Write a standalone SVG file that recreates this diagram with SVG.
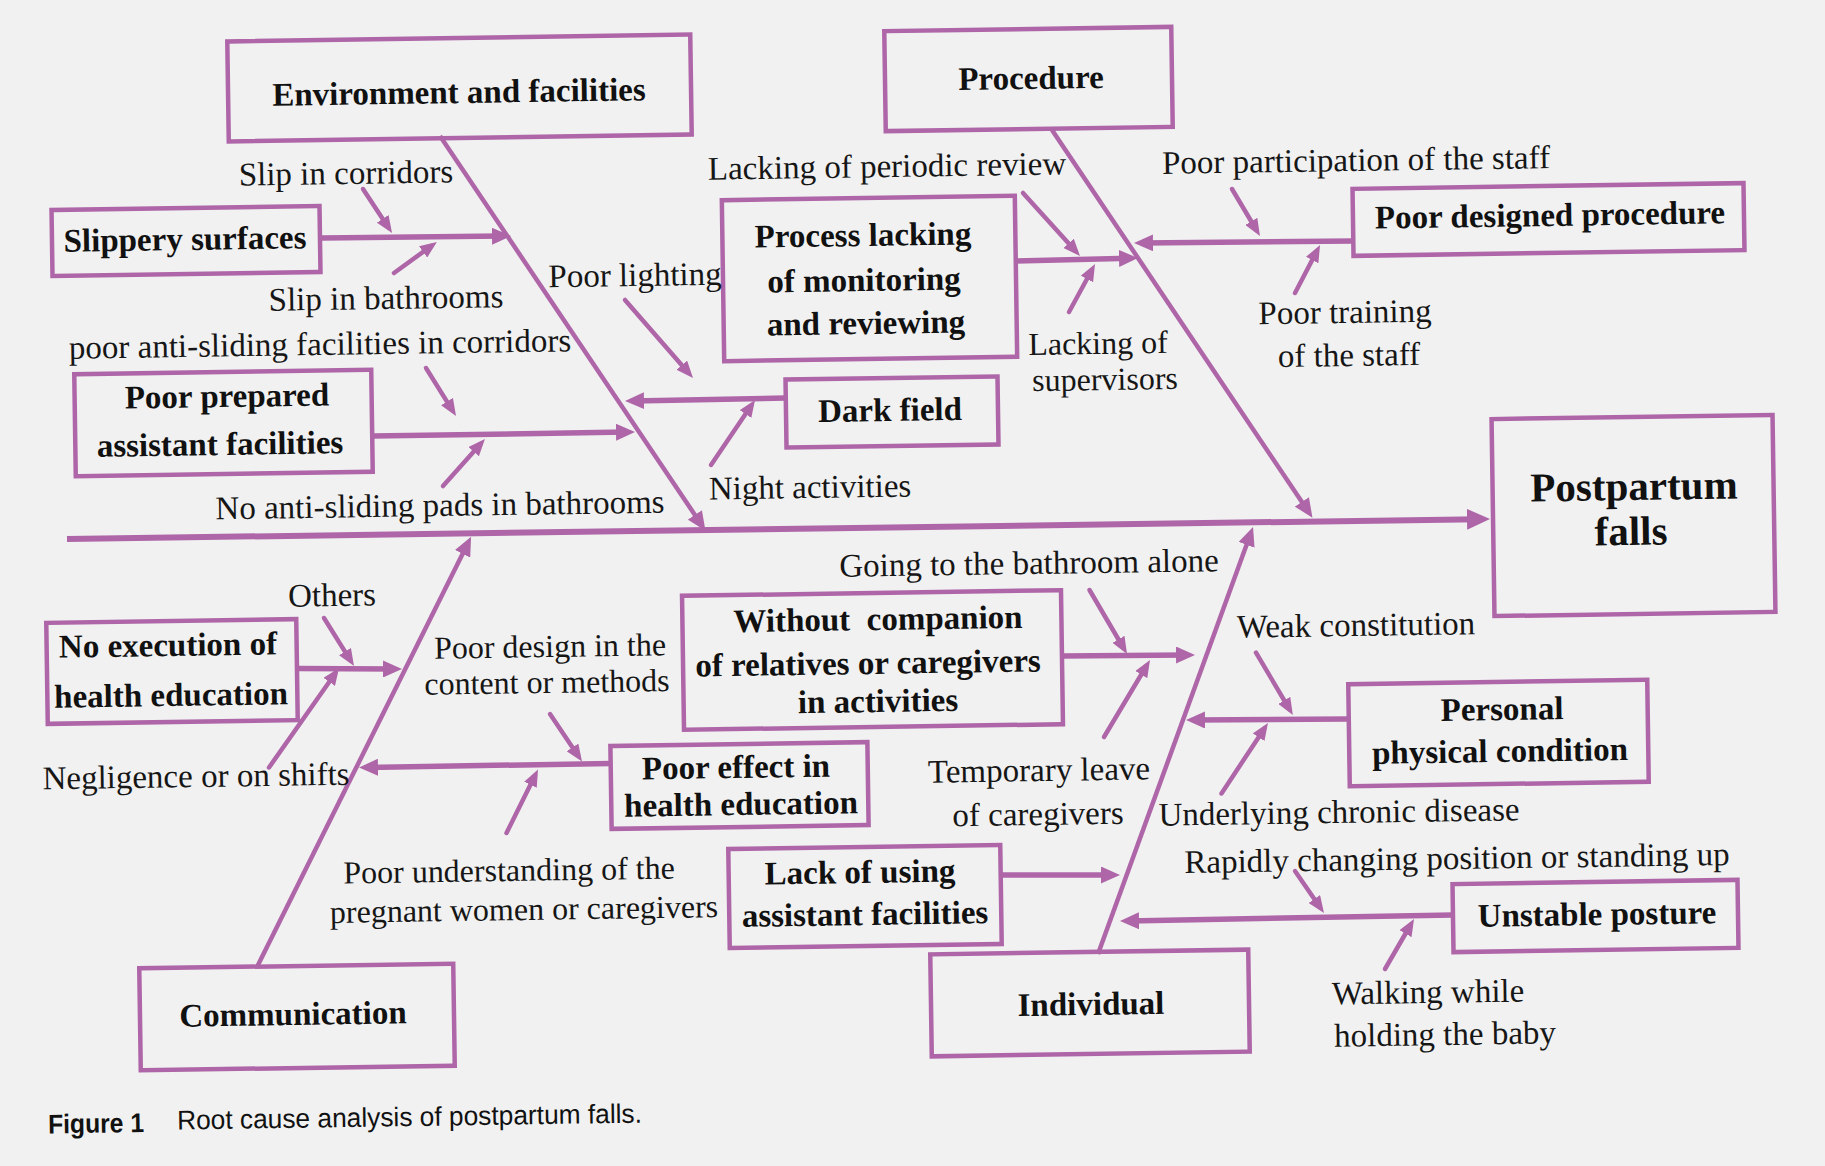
<svg xmlns="http://www.w3.org/2000/svg" width="1825" height="1166" viewBox="0 0 1825 1166">
  <style>
    .tl{transform-box:fill-box;transform-origin:center;transform:rotate(-0.85deg)}
    .box{fill:none;stroke:#ae66a8;stroke-width:4.5}
    .bt{font-family:"Liberation Serif","Times New Roman",serif;font-weight:bold;font-size:33px;fill:#111;text-anchor:middle}
    .lb{font-family:"Liberation Serif","Times New Roman",serif;font-size:33px;fill:#161616;text-anchor:middle}
    .tight{font-size:32px}
    .big{font-size:41px}
    .cap{font-family:"Liberation Sans Narrow","Liberation Sans",Arial,sans-serif;font-size:27px;fill:#111}
    #connectors line{stroke:#ae66a8;fill:none}
    .spine{stroke-width:6}
    .bone{stroke-width:4.5}
    .sub{stroke-width:5.5}
    .cause{stroke-width:4.5;stroke-linecap:round}
  </style>
  <defs>
    <marker id="arrow-lg" viewBox="0 0 23 21" refX="12" refY="10.5" markerWidth="23" markerHeight="21" markerUnits="userSpaceOnUse" orient="auto">
      <path d="M0,0 L23,10.5 L0,21 z" fill="#ae66a8"/>
    </marker>
    <marker id="arrow-md" viewBox="0 0 19 17" refX="11" refY="8.5" markerWidth="19" markerHeight="17" markerUnits="userSpaceOnUse" orient="auto">
      <path d="M0,0 L19,8.5 L0,17 z" fill="#ae66a8"/>
    </marker>
    <marker id="arrow-sm" viewBox="0 0 17 14" refX="10" refY="7" markerWidth="17" markerHeight="14" markerUnits="userSpaceOnUse" orient="auto">
      <path d="M0,0 L17,7 L0,14 z" fill="#ae66a8"/>
    </marker>
  </defs>

  <rect width="1825" height="1166" fill="#f1f1f1"/>

  <g id="connectors">
    <!-- spine -->
    <line class="spine" x1="67" y1="539" x2="1479" y2="519.2" marker-end="url(#arrow-lg)"/>
    <!-- main category bones -->
    <line class="bone" x1="440" y1="136" x2="701" y2="524" marker-end="url(#arrow-md)"/>
    <line class="bone" x1="1052" y1="130" x2="1308" y2="511" marker-end="url(#arrow-md)"/>
    <line class="bone" x1="257" y1="967" x2="467.5" y2="544" marker-end="url(#arrow-md)"/>
    <line class="bone" x1="1098" y1="954" x2="1250.3" y2="534.5" marker-end="url(#arrow-md)"/>
    <!-- sub-cause branches -->
    <line class="sub" x1="322" y1="238" x2="503" y2="236.1" marker-end="url(#arrow-md)"/>
    <line class="sub" x1="373" y1="436" x2="627" y2="432.1" marker-end="url(#arrow-md)"/>
    <line class="sub" x1="786" y1="398" x2="633" y2="400.9" marker-end="url(#arrow-md)"/>
    <line class="sub" x1="1016" y1="261" x2="1130" y2="258.2" marker-end="url(#arrow-md)"/>
    <line class="sub" x1="1353" y1="241" x2="1142" y2="243" marker-end="url(#arrow-md)"/>
    <line class="sub" x1="297" y1="668.5" x2="394" y2="669" marker-end="url(#arrow-md)"/>
    <line class="sub" x1="611" y1="763.5" x2="367" y2="767.4" marker-end="url(#arrow-md)"/>
    <line class="sub" x1="1062" y1="656" x2="1187" y2="655" marker-end="url(#arrow-md)"/>
    <line class="sub" x1="1349" y1="719" x2="1194" y2="720" marker-end="url(#arrow-md)"/>
    <line class="sub" x1="1001" y1="875" x2="1112" y2="875" marker-end="url(#arrow-md)"/>
    <line class="sub" x1="1453" y1="915" x2="1128" y2="920.9" marker-end="url(#arrow-md)"/>
    <!-- contributing-cause arrows -->
    <line class="cause" x1="363" y1="189" x2="388.2" y2="227.2" marker-end="url(#arrow-sm)"/>
    <line class="cause" x1="394" y1="273" x2="431.2" y2="246" marker-end="url(#arrow-sm)"/>
    <line class="cause" x1="426" y1="368" x2="452.3" y2="410.1" marker-end="url(#arrow-sm)"/>
    <line class="cause" x1="443" y1="486" x2="480.3" y2="444.2" marker-end="url(#arrow-sm)"/>
    <line class="cause" x1="625" y1="300" x2="688.4" y2="372.7" marker-end="url(#arrow-sm)"/>
    <line class="cause" x1="711" y1="465" x2="751.1" y2="405.8" marker-end="url(#arrow-sm)"/>
    <line class="cause" x1="1023" y1="193" x2="1075.3" y2="250.8" marker-end="url(#arrow-sm)"/>
    <line class="cause" x1="1069" y1="312" x2="1091.7" y2="270.2" marker-end="url(#arrow-sm)"/>
    <line class="cause" x1="1232" y1="189" x2="1256.4" y2="230" marker-end="url(#arrow-sm)"/>
    <line class="cause" x1="1295" y1="293" x2="1316.8" y2="251.2" marker-end="url(#arrow-sm)"/>
    <line class="cause" x1="324" y1="618" x2="350.3" y2="660.1" marker-end="url(#arrow-sm)"/>
    <line class="cause" x1="269" y1="767.5" x2="335" y2="673.7" marker-end="url(#arrow-sm)"/>
    <line class="cause" x1="550" y1="714" x2="578.1" y2="755.7" marker-end="url(#arrow-sm)"/>
    <line class="cause" x1="506.5" y1="833" x2="534.9" y2="775.8" marker-end="url(#arrow-sm)"/>
    <line class="cause" x1="1089.5" y1="590" x2="1123.5" y2="648" marker-end="url(#arrow-sm)"/>
    <line class="cause" x1="1104" y1="737" x2="1146.4" y2="666" marker-end="url(#arrow-sm)"/>
    <line class="cause" x1="1256" y1="652.6" x2="1289.3" y2="709" marker-end="url(#arrow-sm)"/>
    <line class="cause" x1="1221.5" y1="793.5" x2="1264.1" y2="728.9" marker-end="url(#arrow-sm)"/>
    <line class="cause" x1="1295" y1="871" x2="1320" y2="907.2" marker-end="url(#arrow-sm)"/>
    <line class="cause" x1="1385" y1="969" x2="1410.5" y2="925" marker-end="url(#arrow-sm)"/>
  </g>

  <!-- effect -->
  <g id="node-postpartum-falls">
    <rect class="box tl" x="1493" y="417" width="281" height="197"/>
    <text class="bt big tl" x="1634" y="500">Postpartum</text>
    <text class="bt big tl" x="1631" y="545">falls</text>
  </g>

  <!-- categories -->
  <g id="node-environment">
    <rect class="box tl" x="228" y="38" width="463" height="100"/>
    <text class="bt tl" x="459" y="103">Environment and facilities</text>
  </g>
  <g id="node-procedure">
    <rect class="box tl" x="885" y="29" width="287" height="100"/>
    <text class="bt tl" x="1031" y="89">Procedure</text>
  </g>
  <g id="node-communication">
    <rect class="box tl" x="140" y="966" width="314" height="102"/>
    <text class="bt tl" x="293" y="1025">Communication</text>
  </g>
  <g id="node-individual">
    <rect class="box tl" x="931" y="952" width="318" height="102"/>
    <text class="bt tl" x="1091" y="1015">Individual</text>
  </g>

  <!-- sub-causes -->
  <g id="node-slippery-surfaces">
    <rect class="box tl" x="52" y="208" width="268" height="66"/>
    <text class="bt tl" x="185" y="250">Slippery surfaces</text>
  </g>
  <g id="node-poor-prepared">
    <rect class="box tl" x="75" y="372" width="297" height="102"/>
    <text class="bt tl" x="227" y="407">Poor prepared</text>
    <text class="bt tl" x="220" y="455">assistant facilities</text>
  </g>
  <g id="node-dark-field">
    <rect class="box tl" x="786" y="378" width="212" height="68"/>
    <text class="bt tl" x="890" y="421">Dark field</text>
  </g>
  <g id="node-process-lacking">
    <rect class="box tl" x="723" y="198" width="293" height="161"/>
    <text class="bt tl" x="863" y="246">Process lacking</text>
    <text class="bt tl" x="864" y="291">of monitoring</text>
    <text class="bt tl" x="866" y="334">and reviewing</text>
  </g>
  <g id="node-poor-designed">
    <rect class="box tl" x="1353" y="186" width="391" height="67"/>
    <text class="bt tl" x="1550" y="226">Poor designed procedure</text>
  </g>
  <g id="node-no-execution">
    <rect class="box tl" x="47" y="621" width="250" height="101"/>
    <text class="bt tl" x="168" y="656">No execution of</text>
    <text class="bt tl" x="171" y="706">health education</text>
  </g>
  <g id="node-poor-effect">
    <rect class="box tl" x="611" y="744" width="257" height="83"/>
    <text class="bt tl" x="736" y="778">Poor effect in</text>
    <text class="bt tl" x="741" y="815">health education</text>
  </g>
  <g id="node-without-companion">
    <rect class="box tl" x="683" y="593" width="379" height="134"/>
    <text class="bt tl" x="878" y="630" xml:space="preserve">Without  companion</text>
    <text class="bt tl" x="868" y="674">of relatives or caregivers</text>
    <text class="bt tl" x="878" y="712">in activities</text>
  </g>
  <g id="node-personal-condition">
    <rect class="box tl" x="1349" y="682" width="299" height="102"/>
    <text class="bt tl" x="1502" y="720">Personal</text>
    <text class="bt tl" x="1500" y="762">physical condition</text>
  </g>
  <g id="node-lack-of-using">
    <rect class="box tl" x="729" y="847" width="272" height="99"/>
    <text class="bt tl" x="860" y="883">Lack of using</text>
    <text class="bt tl" x="865" y="925">assistant facilities</text>
  </g>
  <g id="node-unstable-posture">
    <rect class="box tl" x="1453" y="882" width="285" height="68"/>
    <text class="bt tl" x="1597" y="925">Unstable posture</text>
  </g>

  <!-- contributing-cause labels -->
  <g id="causes">
    <text class="lb tl" x="346" y="184">Slip in corridors</text>
    <text class="lb tl" x="386" y="309">Slip in bathrooms</text>
    <text class="lb tl" x="320" y="355">poor anti-sliding facilities in corridors</text>
    <text class="lb tl" x="440" y="516">No anti-sliding pads in bathrooms</text>
    <text class="lb tl" x="635" y="286">Poor lighting</text>
    <text class="lb tl" x="810" y="498">Night activities</text>
    <text class="lb tl" x="887" y="177">Lacking of periodic review</text>
    <text class="lb tight tl" x="1098" y="354">Lacking of</text>
    <text class="lb tight tl" x="1105" y="390">supervisors</text>
    <text class="lb tl" x="1356" y="171">Poor participation of the staff</text>
    <text class="lb tl" x="1345" y="323">Poor training</text>
    <text class="lb tl" x="1349" y="366">of the staff</text>
    <text class="lb tl" x="332" y="606">Others</text>
    <text class="lb tl" x="196" y="787">Negligence or on shifts</text>
    <text class="lb tight tl" x="550" y="657">Poor design in the</text>
    <text class="lb tight tl" x="547" y="693">content or methods</text>
    <text class="lb tight tl" x="509" y="881">Poor understanding of the</text>
    <text class="lb tight tl" x="524" y="920">pregnant women or caregivers</text>
    <text class="lb tl" x="1029" y="574">Going to the bathroom alone</text>
    <text class="lb tl" x="1039" y="781">Temporary leave</text>
    <text class="lb tl" x="1038" y="825">of caregivers</text>
    <text class="lb tl" x="1356" y="636">Weak constitution</text>
    <text class="lb tl" x="1339" y="823">Underlying chronic disease</text>
    <text class="lb tl" x="1457" y="869">Rapidly changing position or standing up</text>
    <text class="lb tl" x="1428" y="1003">Walking while</text>
    <text class="lb tl" x="1445" y="1045">holding the baby</text>
  </g>

  <g id="caption" class="tl">
    <text class="cap" x="48" y="1129" font-weight="bold" textLength="96" lengthAdjust="spacingAndGlyphs">Figure 1</text>
    <text class="cap" x="177" y="1127" textLength="465" lengthAdjust="spacingAndGlyphs">Root cause analysis of postpartum falls.</text>
  </g>
</svg>
